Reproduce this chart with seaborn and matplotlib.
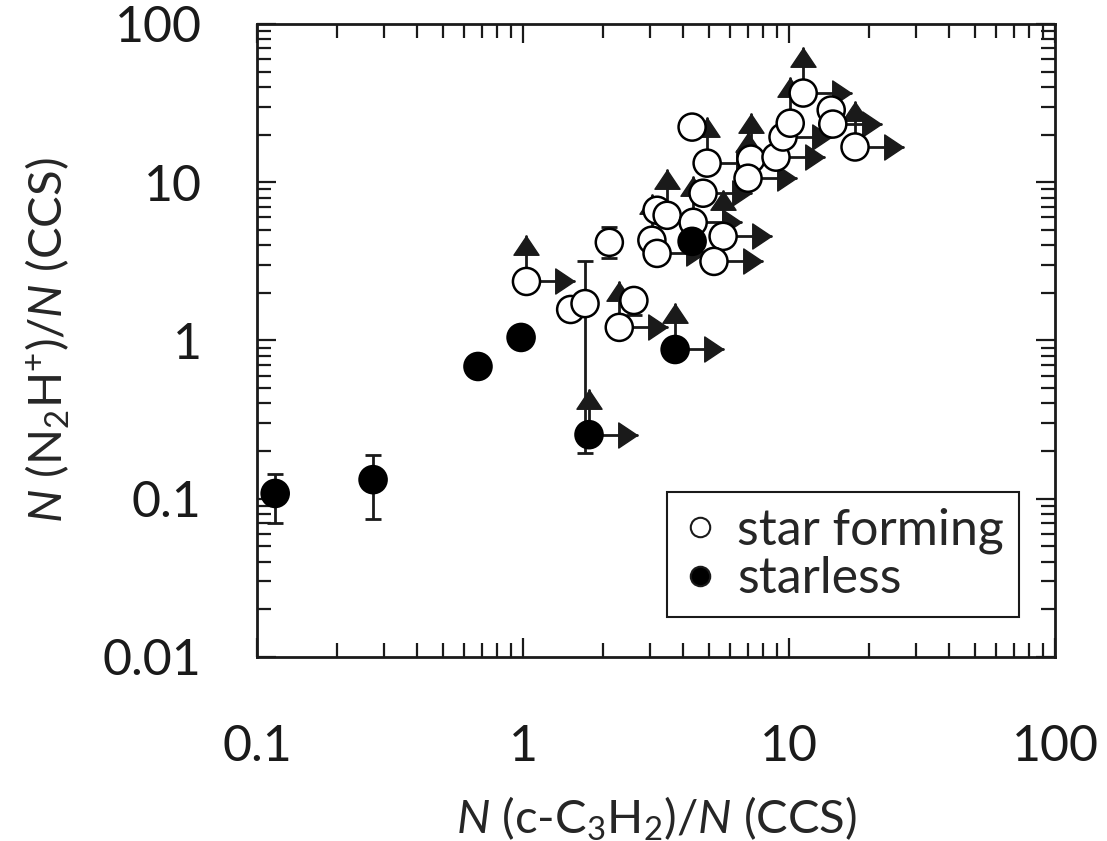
import matplotlib
matplotlib.use('Agg')
import numpy as np
import pandas as pd
import matplotlib.pyplot as plt
import seaborn as sns
from matplotlib.lines import Line2D
from matplotlib.ticker import FuncFormatter, LogLocator

# ---------------- data ----------------
# star forming cores: N(c-C3H2)/N(CCS), N(N2H+)/N(CCS), lower-limit flags
sf_x = [1.03, 1.51, 1.71, 2.11, 2.61, 2.30, 3.19, 3.48, 4.36, 3.05, 3.19, 5.65, 5.22,
        4.32, 4.92, 4.75, 7.19, 7.01, 8.93, 9.49, 10.1, 11.3, 14.4, 14.6, 17.7]
sf_y = [2.36, 1.57, 1.71, 4.17, 1.79, 1.21, 6.65, 6.18, 5.58, 4.30, 3.55, 4.55, 3.16,
        22.3, 13.2, 8.52, 14.0, 10.6, 14.4, 19.3, 23.6, 36.6, 28.6, 23.3, 16.7]
sf_up = [1, 0, 0, 0, 0, 1, 0, 1, 1, 1, 0, 1, 0,
         0, 1, 0, 1, 1, 0, 0, 1, 1, 0, 0, 1]
sf_right = [1, 0, 0, 0, 0, 1, 0, 0, 1, 0, 1, 1, 1,
            0, 1, 1, 0, 1, 1, 1, 0, 1, 0, 1, 1]
# error bars on a few star forming cores (index, lower, upper)
sf_err_idx = [2, 3, 4]
sf_err_lo = [0.195, 3.3, 1.45]
sf_err_hi = [3.2, 5.2, 2.1]

# starless cores
sl_x = [0.117, 0.273, 0.677, 0.983, 1.77, 3.73, 4.32]
sl_y = [0.108, 0.132, 0.685, 1.045, 0.254, 0.877, 4.23]
sl_up = [0, 0, 0, 0, 1, 1, 0]
sl_right = [0, 0, 0, 0, 1, 1, 0]
sl_err_idx = [0, 1]
sl_err_lo = [0.0705, 0.0747]
sl_err_hi = [0.144, 0.19]

# ---------------- style ----------------
sns.set_theme(style='ticks')
plt.rcParams['font.family'] = ['Lato', 'DejaVu Sans']
plt.rcParams['mathtext.fontset'] = 'custom'
plt.rcParams['mathtext.rm'] = 'Lato'
plt.rcParams['mathtext.it'] = 'Lato:italic'
plt.rcParams['axes.linewidth'] = 2.0

UP = 10 ** (45 / 158)      # arrow length, factor in y
RIGHT = 10 ** (48 / 266)   # arrow length, factor in x
up_tri = [(0, 0), (-0.67, -1), (0.67, -1), (0, 0)]
right_tri = [(0, 0), (-1, 0.67), (-1, -0.67), (0, 0)]

df = pd.DataFrame({
    'x': sf_x + sl_x,
    'y': sf_y + sl_y,
    'kind': ['star forming'] * len(sf_x) + ['starless'] * len(sl_x),
    'up': sf_up + sl_up,
    'right': sf_right + sl_right,
})

fig = plt.figure(figsize=(11.07, 8.41), dpi=100)
ax = fig.add_axes([0.2322, 0.2188, 0.7209, 0.7527])

# lower limits: arrows
for _, r in df.iterrows():
    if r['up']:
        ax.plot([r.x, r.x], [r.y, r.y * UP], color='k', lw=2, zorder=2)
        ax.plot(r.x, r.y * UP, ls='none', marker=up_tri, ms=27, color='k', zorder=2)
    if r['right']:
        ax.plot([r.x, r.x * RIGHT], [r.y, r.y], color='k', lw=2, zorder=2)
        ax.plot(r.x * RIGHT, r.y, ls='none', marker=right_tri, ms=27, color='k', zorder=2)

# error bars
for idx, lo, hi, xs, ys in [(sf_err_idx, sf_err_lo, sf_err_hi, sf_x, sf_y),
                            (sl_err_idx, sl_err_lo, sl_err_hi, sl_x, sl_y)]:
    ex = np.array([xs[i] for i in idx])
    ey = np.array([ys[i] for i in idx])
    ax.errorbar(ex, ey, yerr=[ey - np.array(lo), np.array(hi) - ey], fmt='none',
                ecolor='k', elinewidth=2, capsize=6, capthick=2, zorder=1.5)

sns.scatterplot(data=df, x='x', y='y', hue='kind',
                palette={'star forming': 'white', 'starless': 'black'},
                edgecolor='black', linewidth=1.8, s=19.5 ** 2, legend=False,
                zorder=3, ax=ax)

ax.set_xscale('log')
ax.set_yscale('log')
ax.set_xlim(0.1, 100)
ax.set_ylim(0.01, 100)
fmt = FuncFormatter(lambda v, p: '{:g}'.format(v))
ax.xaxis.set_major_formatter(fmt)
ax.yaxis.set_major_formatter(fmt)
ax.xaxis.set_minor_locator(LogLocator(subs=np.arange(2, 10)))
ax.yaxis.set_minor_locator(LogLocator(subs=np.arange(2, 10)))
ax.tick_params(which='both', direction='in', top=True, right=True, colors='k', width=1.6)
ax.tick_params(which='major', length=14, labelsize=36)
ax.tick_params(axis='x', which='major', pad=48)
ax.tick_params(axis='y', which='major', pad=40)
ax.tick_params(which='minor', length=10)
for s in ax.spines.values():
    s.set_color('k')

ax.set_xlabel(r'$N$ (c-C$_3$H$_2$)/$N$ (CCS)', fontsize=34, labelpad=18)
ax.set_ylabel(r'$N$ (N$_2$H$^{+}$)/$N$ (CCS)', fontsize=34, labelpad=22)

handles = [Line2D([], [], ls='none', marker='o', mfc='white', mec='k', ms=14, mew=1.5),
           Line2D([], [], ls='none', marker='o', mfc='black', mec='k', ms=14, mew=1.5)]
leg = ax.legend(handles, ['star forming', 'starless'], loc='lower right',
                bbox_to_anchor=(0.955, 0.063), fontsize=36, frameon=True,
                fancybox=False, framealpha=1, edgecolor='k', handlelength=0.7,
                handletextpad=0.4, labelspacing=0.05, borderpad=0.3, borderaxespad=0)
leg.get_frame().set_linewidth(1.5)

fig.savefig('out.png', dpi=100)
